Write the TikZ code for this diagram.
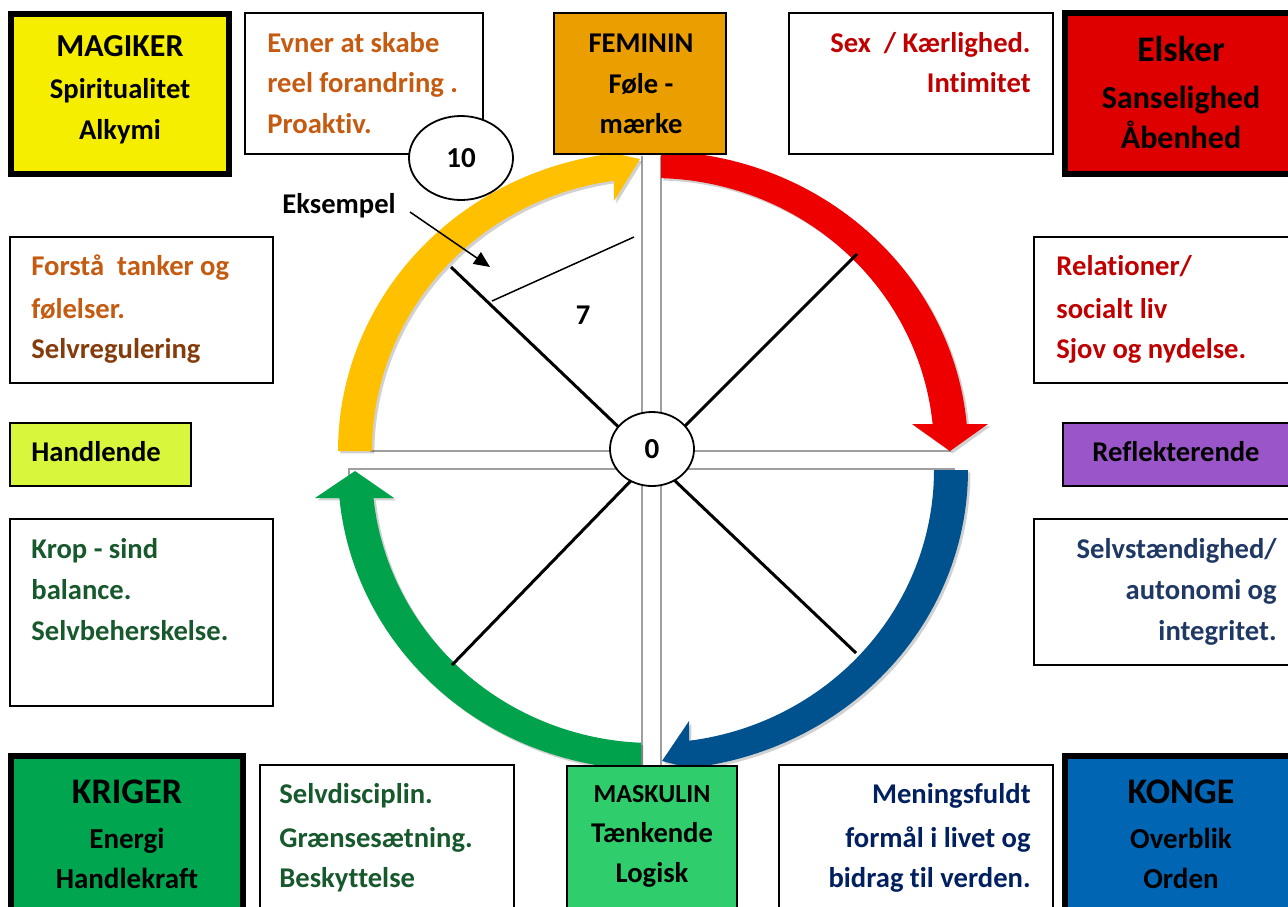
\documentclass[tikz,border=0pt]{standalone}
\usepackage{fontspec}
\setmainfont{Carlito}[Ligatures=NoCommon]
\usetikzlibrary{shapes.geometric,arrows.meta,shadows}
\definecolor{cMag}{HTML}{F5EE00}
\definecolor{cFem}{HTML}{EA9E00}
\definecolor{cEls}{HTML}{DE0000}
\definecolor{cHand}{HTML}{D8F63C}
\definecolor{cRefl}{HTML}{9A56C8}
\definecolor{cKri}{HTML}{00A54F}
\definecolor{cMask}{HTML}{2FCD6B}
\definecolor{cKon}{HTML}{0065B3}
\definecolor{aYel}{HTML}{FFC000}
\definecolor{aRed}{HTML}{EE0000}
\definecolor{aBlu}{HTML}{00528F}
\definecolor{aGrn}{HTML}{00A24C}
\definecolor{tOra}{HTML}{C55A11}
\definecolor{tBrn}{HTML}{843C0C}
\definecolor{tRed}{HTML}{C00000}
\definecolor{tGrn}{HTML}{17582C}
\definecolor{tBlu}{HTML}{1F3864}
\definecolor{tNav}{HTML}{002060}
\newcommand\sz[1]{\fontsize{#1}{#1}\selectfont}
\newcommand\mybox[6]{\node[#6, minimum width={(#4-#2)*0.5pt}, minimum height={(#5-#3)*0.5pt}] (#1) at ({(#2+#4)/2},{(#3+#5)/2}) {};}
\begin{document}
\begin{tikzpicture}[x=0.5pt,y=-0.5pt,
  thinbox/.style={draw=black, line width=1pt, fill=white, inner sep=0pt, outer sep=0pt},
  thickbox/.style={draw=black, line width=3pt, inner sep=0pt, outer sep=0pt},
  txt/.style={inner sep=0pt, font=\bfseries\sz{14.3}},
  big/.style={inner sep=0pt, font=\bfseries\sz{18}},
  mid/.style={inner sep=0pt, font=\bfseries\sz{16}},
  axis/.style={draw=gray!75, line width=0.8pt},
  spoke/.style={draw=black, line width=1.5pt},
  arrsh/.style={drop shadow={shadow xshift=1.2pt,shadow yshift=-1.2pt,opacity=0.18,fill=black}},
  val/.style={ellipse, draw=black, line width=0.9pt, fill=white, inner sep=0pt, font=\bfseries\sz{14.5}}
]
\useasboundingbox (0,0) rectangle (1288,906);
\clip (0,0) rectangle (1288,906);
\fill[white] (0,0) rectangle (1288,906);

% axes (quadrant edges)
\draw[axis] (642,156) -- (642,451) -- (370,451);
\draw[axis] (661,156) -- (661,451) -- (951,451);
\draw[axis] (349,476) -- (349,469) -- (642,469) -- (642,770);
\draw[axis] (954,476) -- (954,469) -- (661,469) -- (661,770);

% coloured circular arrows
\path[fill=aYel, arrsh] plot[domain=180:97.1, samples=60] ({653+315*cos(\x)},{451-300*sin(\x)})
  -- (640,159) -- (614,201)
  -- plot[domain=98:180, samples=60] ({653+281*cos(\x)},{451-273*sin(\x)}) -- cycle;
\path[fill=aRed, arrsh] plot[domain=88.5:5.16, samples=60] ({653+315*cos(\x)},{451-300*sin(\x)})
  -- (988,424) -- (950,451) -- (912,424)
  -- plot[domain=5.68:88.37, samples=60] ({653+281*cos(\x)},{451-273*sin(\x)}) -- cycle;
\path[fill=aBlu, arrsh] plot[domain=0:-83.44, samples=60] ({653+315*cos(\x)},{470-300*sin(\x)})
  -- (662,761) -- (689,721)
  -- plot[domain=-82.64:0, samples=60] ({653+281*cos(\x)},{470-273*sin(\x)}) -- cycle;
\path[fill=aGrn, arrsh] plot[domain=-92.18:-174.64, samples=60] ({653+315*cos(\x)},{470-300*sin(\x)})
  -- (315,498) -- (355,471) -- (394,498)
  -- plot[domain=-174.11:-92.45, samples=60] ({653+281*cos(\x)},{470-273*sin(\x)}) -- cycle;

% spokes
\coordinate (hub) at (652,459);
\coordinate (s1) at (451,267);
\coordinate (s2) at (857,254);
\coordinate (s3) at (452,665);
\coordinate (s4) at (856,653);
\foreach \s in {s1,s2,s3,s4} \draw[spoke] (hub) -- (\s);

% example
\coordinate (ex1) at (492,301);
\coordinate (ex2) at (634,237);
\draw[black, line width=0.75pt] (ex1) -- (ex2);
\node[txt, anchor=base west] (eks) at (282,213) {Eksempel};
\coordinate (eksA) at (410,212);
\coordinate (eksB) at (490,267);
\draw[black, line width=0.75pt, -{Triangle[length=8pt,width=7pt]}] (eksA) -- (eksB);
\node[txt] (seven) at (583,315) {7};

% centre value
\node[val, minimum width=42pt, minimum height=37pt] (o) at (652,449) {0};

% top row boxes
\mybox{magiker}{11}{14}{229}{174}{thickbox, fill=cMag}
\mybox{evner}{245}{13}{483}{154}{thinbox}
\mybox{feminin}{554}{13}{726}{154}{thinbox, fill=cFem}
\mybox{sex}{789}{13}{1053}{154}{thinbox}
\mybox{elsker}{1065}{13}{1300}{174}{thickbox, fill=cEls}
\node[val, minimum width=52pt, minimum height=42pt] (ten) at (461,158) {10};

% middle boxes
\mybox{forstaa}{10}{237}{273}{383}{thinbox}
\mybox{handlende}{10}{423}{191}{486}{thinbox, fill=cHand}
\mybox{krop}{10}{519}{273}{706}{thinbox}
\mybox{relationer}{1034}{237}{1300}{383}{thinbox}
\mybox{reflekt}{1063}{423}{1300}{486}{thinbox, fill=cRefl}
\mybox{selvst}{1034}{519}{1300}{665}{thinbox}

% bottom boxes
\mybox{kriger}{11}{756}{243}{930}{thickbox, fill=cKri}
\mybox{selvdis}{260}{765}{514}{930}{thinbox}
\mybox{maskulin}{567}{766}{737}{930}{thinbox, fill=cMask}
\mybox{mening}{779}{765}{1053}{930}{thinbox}
\mybox{konge}{1065}{756}{1300}{930}{thickbox, fill=cKon}

% texts top
\node[mid, anchor=base] (tmag1) at (120,56) {MAGIKER};
\node[txt, anchor=base] (tmag2) at (120,98) {Spiritualitet};
\node[txt, anchor=base] (tmag3) at (120,139) {Alkymi};
\node[txt, text=tOra, anchor=base west] (tev1) at (267,52) {Evner at skabe};
\node[txt, text=tOra, anchor=base west] (tev2) at (267,92) {reel forandring .};
\node[txt, text=tOra, anchor=base west] (tev3) at (267,133) {Proaktiv.};
\node[txt, anchor=base] (tfem1) at (641,52) {FEMININ};
\node[txt, anchor=base] (tfem2) at (641,93) {Føle -};
\node[txt, anchor=base] (tfem3) at (641,133) {mærke};
\node[txt, text=tRed, anchor=base east] (tsex1) at (1031,52) {Sex\ \ / Kærlighed.};
\node[txt, text=tRed, anchor=base east] (tsex2) at (1031,92) {Intimitet};
\node[big, anchor=base] (tels1) at (1181,61) {Elsker};
\node[mid, anchor=base] (tels2) at (1181,108) {Sanselighed};
\node[mid, anchor=base] (tels3) at (1181,148) {Åbenhed};

% texts middle
\node[txt, text=tOra, anchor=base west] (tfo1) at (31,275) {Forstå\ \ tanker og};
\node[txt, text=tOra, anchor=base west] (tfo2) at (31,318) {følelser.};
\node[txt, text=tBrn, anchor=base west] (tfo3) at (31,358) {Selvregulering};
\node[txt, anchor=base west] (thand) at (31,461) {Handlende};
\node[txt, text=tGrn, anchor=base west] (tkr1) at (31,558) {Krop - sind};
\node[txt, text=tGrn, anchor=base west] (tkr2) at (31,599) {balance.};
\node[txt, text=tGrn, anchor=base west] (tkr3) at (31,640) {Selvbeherskelse.};
\node[txt, text=tRed, anchor=base west] (trel1) at (1056,275) {Relationer/};
\node[txt, text=tRed, anchor=base west] (trel2) at (1056,318) {socialt liv};
\node[txt, text=tRed, anchor=base west] (trel3) at (1056,358) {Sjov og nydelse.};
\node[txt, anchor=base west] (trefl) at (1092,461) {Reflekterende};
\node[txt, text=tBlu, anchor=base east] (tse1) at (1277,558) {Selvstændighed/};
\node[txt, text=tBlu, anchor=base east] (tse2) at (1277,599) {autonomi og};
\node[txt, text=tBlu, anchor=base east] (tse3) at (1277,640) {integritet.};

% texts bottom
\node[big, anchor=base] (tkri1) at (127,803) {KRIGER};
\node[txt, font=\bfseries\sz{14.5}, anchor=base] (tkri2) at (127,848) {Energi};
\node[txt, font=\bfseries\sz{14.5}, anchor=base] (tkri3) at (127,888) {Handlekraft};
\node[txt, text=tGrn, anchor=base west] (tsd1) at (279,803) {Selvdisciplin.};
\node[txt, text=tGrn, anchor=base west] (tsd2) at (279,847) {Grænsesætning.};
\node[txt, text=tGrn, anchor=base west] (tsd3) at (279,887) {Beskyttelse};
\node[txt, font=\bfseries\sz{13}, anchor=base] (tmas1) at (652,802) {MASKULIN};
\node[txt, anchor=base] (tmas2) at (652,842) {Tænkende};
\node[txt, anchor=base] (tmas3) at (652,882) {Logisk};
\node[txt, text=tNav, anchor=base east] (tme1) at (1031,803) {Meningsfuldt};
\node[txt, text=tNav, anchor=base east] (tme2) at (1031,847) {formål i livet og};
\node[txt, text=tNav, anchor=base east] (tme3) at (1031,887) {bidrag til verden.};
\node[big, anchor=base] (tko1) at (1181,803) {KONGE};
\node[txt, font=\bfseries\sz{14.5}, anchor=base] (tko2) at (1181,848) {Overblik};
\node[txt, font=\bfseries\sz{14.5}, anchor=base] (tko3) at (1181,888) {Orden};
\end{tikzpicture}
\end{document}
